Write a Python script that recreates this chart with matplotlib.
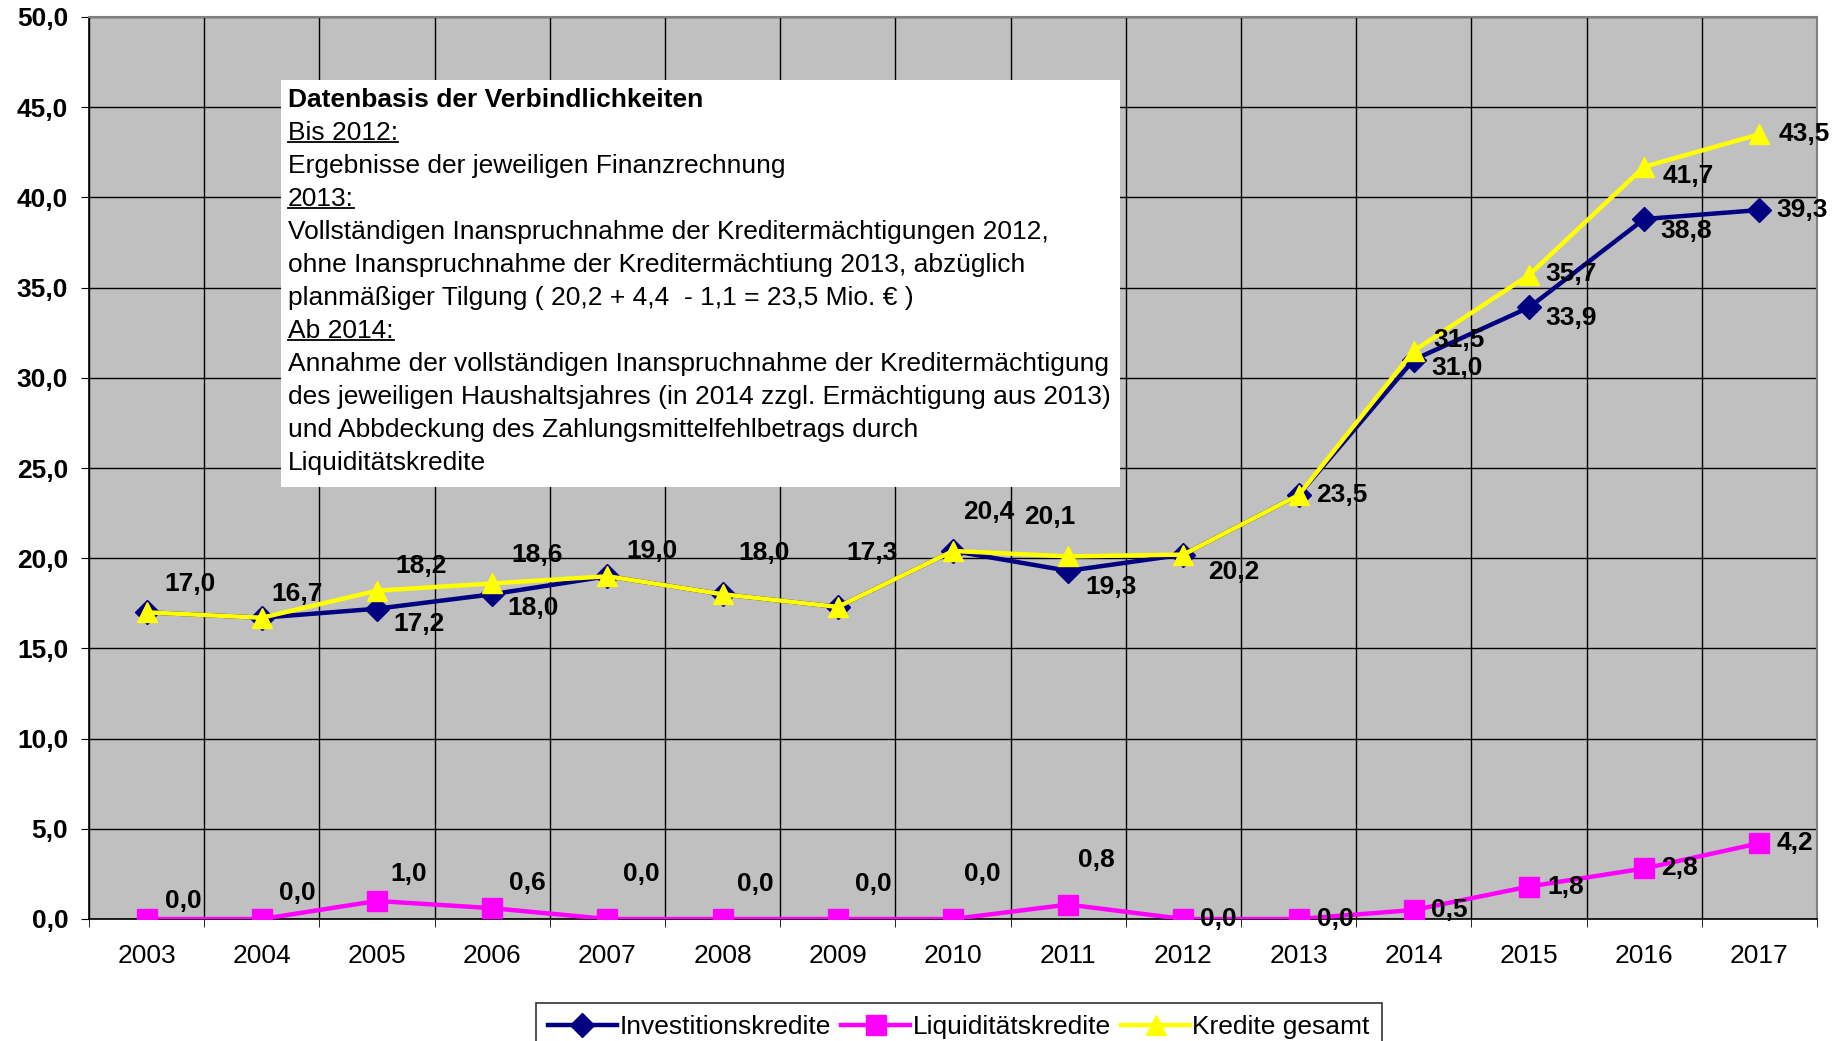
import matplotlib
matplotlib.use("Agg")
import matplotlib.pyplot as plt
from matplotlib.lines import Line2D

plt.rcParams['font.family'] = ['Liberation Sans', 'DejaVu Sans']

years = ["2003", "2004", "2005", "2006", "2007", "2008", "2009", "2010",
         "2011", "2012", "2013", "2014", "2015", "2016", "2017"]
invest = [17.0, 16.7, 17.2, 18.0, 19.0, 18.0, 17.3, 20.4, 19.3, 20.2, 23.5, 31.0, 33.9, 38.8, 39.3]
liquid = [0.0, 0.0, 1.0, 0.6, 0.0, 0.0, 0.0, 0.0, 0.8, 0.0, 0.0, 0.5, 1.8, 2.8, 4.2]
gesamt = [17.0, 16.7, 18.2, 18.6, 19.0, 18.0, 17.3, 20.4, 20.1, 20.2, 23.5, 31.5, 35.7, 41.7, 43.5]

# label offsets (pixels of the shrunk screenshot), None = no label
off_invest = [None, None, (36, 13), (35, 12), None, None, None, None,
              (36, 14), (43, 15), None, (37, 7), (36, 9), (36, 10), (36, 0)]
off_liquid = [(31, -15), (30, -22), (27, -23), (30, -21), (29, -38), (28, -30), (30, -30),
              (25, -38), (24, -38), (30, 0), (31, 0), (30, 0), (31, 0), (30, 0), (30, 0)]
off_gesamt = [(37, -24), (30, -20), (37, -21), (38, -24), (38, -21), (35, -35), (29, -46),
              (30, -33), (-16, -33), None, (37, 0), (38, -9), (36, -1), (37, 8), (38, 0)]

W, H = 1849, 1041
fs = 19
fig = plt.figure(figsize=(W / 100, H / 100), dpi=100)
ax = fig.add_axes([89 / W, 1 - 919 / H, (1817 - 89) / W, (919 - 17) / H])
ax.set_facecolor('#C0C0C0')

x = list(range(len(years)))
ax.plot(x, invest, color='#000080', lw=3.2, marker='D', ms=12, label='Investitionskredite', zorder=3)
ax.plot(x, liquid, color='#FF00FF', lw=3.2, marker='s', ms=14, label='Liquiditätskredite', zorder=3)
ax.plot(x, gesamt, color='#FFFF00', lw=3.2, marker='^', ms=15, label='Kredite gesamt', zorder=4)

k = 1849 / 1568
for vals, offs in [(invest, off_invest), (liquid, off_liquid), (gesamt, off_gesamt)]:
    for i, (v, o) in enumerate(zip(vals, offs)):
        if o is None:
            continue
        ax.annotate(f"{v:.1f}".replace('.', ','), (i, v), xytext=(o[0] * k, -o[1] * k),
                    textcoords='offset pixels', ha='center', va='center',
                    fontsize=fs, fontweight='bold', zorder=6)

ax.set_xlim(-0.5, len(years) - 0.5)
ax.set_ylim(0, 50)
ax.set_yticks(range(0, 51, 5))
ax.set_yticklabels([f"{v:.1f}".replace('.', ',') for v in range(0, 51, 5)],
                   fontsize=fs, fontweight='bold')
ax.set_xticks(x)
ax.set_xticklabels(years, fontsize=fs)
ax.set_xticks([i + 0.5 for i in range(-1, len(years))], minor=True)
ax.tick_params(axis='x', which='major', length=0, pad=18)
ax.tick_params(axis='x', which='minor', length=6, direction='out', color='black')
ax.tick_params(axis='y', length=6, direction='out', pad=9)
ax.grid(axis='y', color='black', lw=1)
ax.grid(axis='x', which='minor', color='black', lw=1)
ax.set_axisbelow(True)
for s in ['top', 'right']:
    ax.spines[s].set_color('#808080')
    ax.spines[s].set_linewidth(1.5)
for s in ['left', 'bottom']:
    ax.spines[s].set_color('black')
    ax.spines[s].set_linewidth(1.2)

# info box
box_lines = [
    ("Datenbasis der Verbindlichkeiten", 'bold', False),
    ("Bis 2012:", 'normal', True),
    ("Ergebnisse der jeweiligen Finanzrechnung", 'normal', False),
    ("2013:", 'normal', True),
    ("Vollständigen Inanspruchnahme der Kreditermächtigungen 2012,", 'normal', False),
    ("ohne Inanspruchnahme der Kreditermächtiung 2013, abzüglich", 'normal', False),
    ("planmäßiger Tilgung ( 20,2 + 4,4  - 1,1 = 23,5 Mio. € )", 'normal', False),
    ("Ab 2014:", 'normal', True),
    ("Annahme der vollständigen Inanspruchnahme der Kreditermächtigung", 'normal', False),
    ("des jeweiligen Haushaltsjahres (in 2014 zzgl. Ermächtigung aus 2013)", 'normal', False),
    ("und Abbdeckung des Zahlungsmittelfehlbetrags durch", 'normal', False),
    ("Liquiditätskredite", 'normal', False),
]
fig.patches.append(plt.Rectangle((281 / W, 1 - 487 / H), (1120 - 281) / W, (487 - 80) / H,
                                 transform=fig.transFigure, facecolor='white',
                                 edgecolor='none', zorder=5))
texts = []
for j, (s, w, ul) in enumerate(box_lines):
    t = fig.text(288 / W, 1 - (100 + 33 * j) / H, s, fontsize=fs, fontweight=w,
                 ha='left', va='center', zorder=6)
    texts.append((t, ul))

fig.canvas.draw()
r = fig.canvas.get_renderer()
for t, ul in texts:
    if ul:
        bb = t.get_window_extent(r)
        yy = (bb.y0 + 3) / H
        fig.lines.append(Line2D([bb.x0 / W, bb.x1 / W], [yy, yy], transform=fig.transFigure,
                                color='black', lw=1.3, zorder=7))

leg = fig.legend(loc='upper center', bbox_to_anchor=(959 / W, 1 - 1003 / H), ncol=3,
                 fontsize=fs, frameon=True, fancybox=False, edgecolor='black',
                 borderaxespad=0, handlelength=2.6, handletextpad=0.1,
                 columnspacing=0.4, borderpad=0.45)
leg.get_frame().set_linewidth(1.2)

fig.savefig("out.png", dpi=100)
